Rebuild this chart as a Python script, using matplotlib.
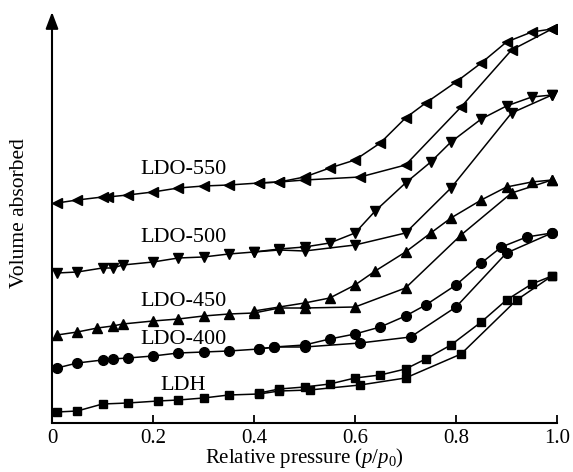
import matplotlib
matplotlib.use("Agg")
import matplotlib.pyplot as plt

plt.rcParams["font.family"] = ["Liberation Serif", "DejaVu Serif"]
plt.rcParams["mathtext.fontset"] = "custom"
plt.rcParams["mathtext.rm"] = "Liberation Serif"
plt.rcParams["mathtext.it"] = "Liberation Serif:italic"

# N2 isotherms, adsorption (ads) and desorption (des) branches, curves offset vertically
ldh_ads_x = [0.01, 0.05, 0.10, 0.15, 0.21, 0.25, 0.30, 0.35, 0.41, 0.45, 0.51, 0.61, 0.70, 0.81, 0.92, 0.99]
ldh_ads_y = [11, 12, 19, 20, 22, 23, 25, 28, 29, 32, 33, 38, 45, 69, 123, 147]
ldh_des_x = [0.99, 0.95, 0.90, 0.85, 0.79, 0.74, 0.70, 0.65, 0.60, 0.55, 0.50, 0.45, 0.41]
ldh_des_y = [147, 139, 123, 101, 78, 64, 54, 48, 45, 39, 36, 34, 30]

ldo400_ads_x = [0.01, 0.05, 0.10, 0.12, 0.15, 0.20, 0.25, 0.30, 0.35, 0.41, 0.44, 0.50, 0.61, 0.71, 0.80, 0.90, 0.99]
ldo400_ads_y = [55, 60, 63, 64, 65, 67, 70, 71, 72, 74, 76, 76, 80, 86, 116, 170, 190]
ldo400_des_x = [0.99, 0.94, 0.89, 0.85, 0.80, 0.74, 0.70, 0.65, 0.60, 0.55, 0.50, 0.44, 0.41]
ldo400_des_y = [190, 186, 176, 160, 138, 118, 107, 96, 89, 84, 78, 76, 74]

ldo450_ads_x = [0.01, 0.05, 0.09, 0.12, 0.14, 0.20, 0.25, 0.30, 0.35, 0.40, 0.45, 0.50, 0.60, 0.70, 0.81, 0.91, 0.99]
ldo450_ads_y = [88, 91, 95, 97, 99, 102, 104, 107, 109, 110, 115, 115, 116, 135, 188, 230, 243]
ldo450_des_x = [0.99, 0.95, 0.90, 0.85, 0.79, 0.75, 0.70, 0.64, 0.60, 0.55, 0.50, 0.45, 0.40]
ldo450_des_y = [243, 241, 236, 223, 205, 190, 171, 152, 138, 125, 120, 116, 112]

ldo500_ads_x = [0.01, 0.05, 0.10, 0.12, 0.14, 0.20, 0.25, 0.30, 0.35, 0.40, 0.45, 0.50, 0.60, 0.70, 0.79, 0.91, 0.99]
ldo500_ads_y = [150, 151, 155, 155, 158, 161, 165, 166, 169, 171, 173, 172, 178, 190, 235, 310, 328]
ldo500_des_x = [0.99, 0.95, 0.90, 0.85, 0.79, 0.75, 0.70, 0.64, 0.60, 0.55, 0.50, 0.45, 0.40]
ldo500_des_y = [328, 326, 317, 304, 281, 261, 240, 212, 190, 180, 176, 174, 171]

ldo550_ads_x = [0.01, 0.05, 0.10, 0.11, 0.15, 0.20, 0.25, 0.30, 0.35, 0.41, 0.45, 0.50, 0.61, 0.70, 0.81, 0.91, 0.99]
ldo550_ads_y = [220, 223, 226, 226, 228, 231, 235, 237, 238, 240, 241, 243, 246, 258, 316, 373, 394]
ldo550_des_x = [0.99, 0.95, 0.90, 0.85, 0.80, 0.74, 0.70, 0.65, 0.60, 0.55, 0.50, 0.45, 0.41]
ldo550_des_y = [394, 391, 381, 360, 341, 320, 305, 280, 263, 255, 246, 241, 240]

samples = ["LDH", "LDO-400", "LDO-450", "LDO-500", "LDO-550"]
label_y = [38, 83, 121, 185, 253]


def main():
    fig = plt.figure(figsize=(5.73, 4.72), dpi=100)
    ax = fig.add_axes([52 / 573, 49 / 472, 505 / 573, 411 / 472])

    curves = [
        (ldh_ads_x, ldh_ads_y, ldh_des_x, ldh_des_y, "s", 6.3),
        (ldo400_ads_x, ldo400_ads_y, ldo400_des_x, ldo400_des_y, "o", 7),
        (ldo450_ads_x, ldo450_ads_y, ldo450_des_x, ldo450_des_y, "^", 7.5),
        (ldo500_ads_x, ldo500_ads_y, ldo500_des_x, ldo500_des_y, "v", 7.5),
        (ldo550_ads_x, ldo550_ads_y, ldo550_des_x, ldo550_des_y, "<", 7.5),
    ]
    for xa, ya, xd, yd, m, ms in curves:
        ax.plot(xa, ya, color="k", lw=1.1, marker=m, ms=ms, mec="k", mfc="k")
        ax.plot(xd, yd, color="k", lw=1.1, marker=m, ms=ms, mec="k", mfc="k")

    for name, yl in zip(samples, label_y):
        ax.text(0.26, yl, name, ha="center", va="center", fontsize=16)

    ax.set_xlim(0, 1.0)
    ax.set_ylim(0, 411)
    ax.set_xticks([0, 0.2, 0.4, 0.6, 0.8, 1.0])
    ax.set_xticklabels(["0", "0.2", "0.4", "0.6", "0.8", "1.0"])
    ax.set_yticks([])
    ax.tick_params(axis="x", direction="in", length=6, width=1.3, labelsize=15, pad=4)

    for s in ["top", "right", "left"]:
        ax.spines[s].set_visible(False)
    ax.spines["bottom"].set_linewidth(1.5)
    ax.annotate("", xy=(0, 1.0), xycoords="axes fraction", xytext=(0, 0),
                textcoords="axes fraction",
                arrowprops=dict(arrowstyle="-|>,head_length=1.0,head_width=0.38",
                                color="k", lw=1.5, shrinkA=0, shrinkB=0))

    ax.set_xlabel(r"Relative pressure ($p$/$p_0$)", fontsize=15, labelpad=-1)
    ax.set_ylabel("Volume absorbed", fontsize=15.5)
    ax.yaxis.set_label_coords(-0.045, 0.51)

    fig.savefig("out.png", dpi=100)
    plt.close()


if __name__ == "__main__":
    main()
